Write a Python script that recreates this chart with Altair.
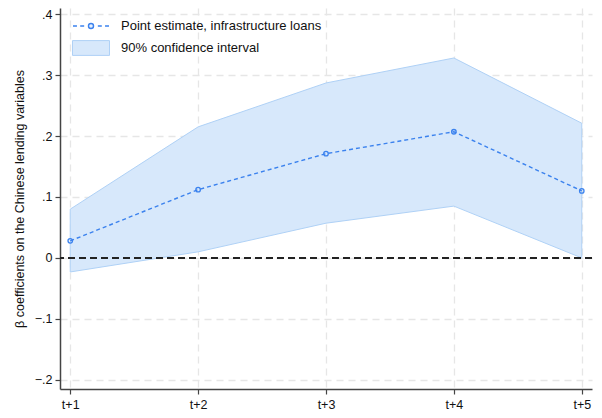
import altair as alt
import pandas as pd

horizons = [1, 2, 3, 4, 5]
estimate = [0.028, 0.112, 0.171, 0.207, 0.110]
lower = [-0.023, 0.010, 0.057, 0.085, 0.000]
upper = [0.080, 0.215, 0.287, 0.328, 0.221]
y_ticks = [-0.2, -0.1, 0.0, 0.1, 0.2, 0.3, 0.4]
zero_line = [0.0]

LINE_LABEL = "Point estimate, infrastructure loans"
BAND_LABEL = "90% confidence interval"
BLUE = "#3b82ee"
BAND_FILL = "#d7e8fb"
BAND_STROKE = "#afd1f6"
FONT = "Liberation Sans"

df = pd.DataFrame({"t": horizons, "est": estimate, "lo": lower, "hi": upper})
df["series"] = LINE_LABEL
df["band"] = BAND_LABEL
zdf = pd.DataFrame({"z": zero_line})

x_enc = alt.X(
    "t:Q",
    scale=alt.Scale(domain=[0.92, 5.08], nice=False, zero=False),
    axis=alt.Axis(values=horizons, labelExpr="'t+' + datum.value", title=None),
)
y_scale = alt.Scale(domain=[-0.215, 0.41], nice=False, zero=False)

band = alt.Chart(df).mark_area(stroke=BAND_STROKE, strokeWidth=1, opacity=1).encode(
    x=x_enc,
    y=alt.Y(
        "lo:Q",
        scale=y_scale,
        axis=alt.Axis(
            values=y_ticks,
            labelExpr="datum.value == 0 ? '0' : replace(format(datum.value, '.1f'), '0.', '.')",
            title="β coefficients on the Chinese lending variables",
            titlePadding=8,
        ),
    ),
    y2="hi:Q",
    fill=alt.Fill(
        "band:N",
        scale=alt.Scale(domain=[BAND_LABEL], range=[BAND_FILL]),
        legend=alt.Legend(
            title=None,
            orient="none",
            legendX=12,
            legendY=21,
            symbolType="M-1,-0.4H1V0.4H-1Z",
            symbolSize=1369,
            symbolStrokeColor=BAND_STROKE,
            symbolStrokeWidth=1,
            symbolOpacity=1,
            labelFontSize=13,
            labelFont=FONT,
            labelColor="#111",
            labelOffset=11,
            labelLimit=0,
        ),
    ),
)

zero = alt.Chart(zdf).mark_rule(color="#222", strokeWidth=2, strokeDash=[7, 4]).encode(
    y=alt.Y("z:Q", scale=y_scale)
)

line = alt.Chart(df).mark_line(strokeWidth=1.4, strokeDash=[4, 3]).encode(
    x=x_enc,
    y=alt.Y("est:Q", scale=y_scale),
    color=alt.Color(
        "series:N",
        scale=alt.Scale(domain=[LINE_LABEL], range=[BLUE]),
        legend=alt.Legend(
            title=None,
            orient="none",
            legendX=12,
            legendY=-1,
            symbolType="M-1,0H-0.78M-0.6,0H-0.38M0.38,0H0.6M0.78,0H1M0.14,0A0.14,0.14,0,1,1,-0.14,0A0.14,0.14,0,1,1,0.14,0Z",
            symbolSize=1296,
            symbolStrokeWidth=1.4,
            symbolFillColor="#e8f1fd",
            labelFontSize=13,
            labelFont=FONT,
            labelColor="#111",
            labelOffset=11,
            labelLimit=0,
        ),
    ),
)

points = alt.Chart(df).mark_point(shape="circle", size=20, filled=False, strokeWidth=1.3, color=BLUE, opacity=1).encode(
    x=x_enc,
    y=alt.Y("est:Q", scale=y_scale),
)

chart = alt.layer(band, zero, line, points).resolve_scale(y="shared").properties(
    width=532,
    height=381,
    autosize=alt.AutoSizeParams(type="none"),
    padding={"left": 52, "top": 0, "right": 2, "bottom": 21},
).configure_view(stroke=None).configure_axis(
    labelFont=FONT,
    titleFont=FONT,
    labelFontSize=12.5,
    titleFontSize=12.5,
    labelColor="#111",
    titleColor="#111",
    titleFontWeight="normal",
    domainColor="#444",
    domainWidth=1.5,
    tickColor="#444",
    tickWidth=1.2,
    tickSize=5,
    gridColor="#e6e6e6",
    gridDash=[7, 5],
    gridWidth=1.3,
    labelPadding=3,
).configure_axisX(labelPadding=4)

chart.save("out.html", embed_options={"renderer": "svg", "actions": False})
